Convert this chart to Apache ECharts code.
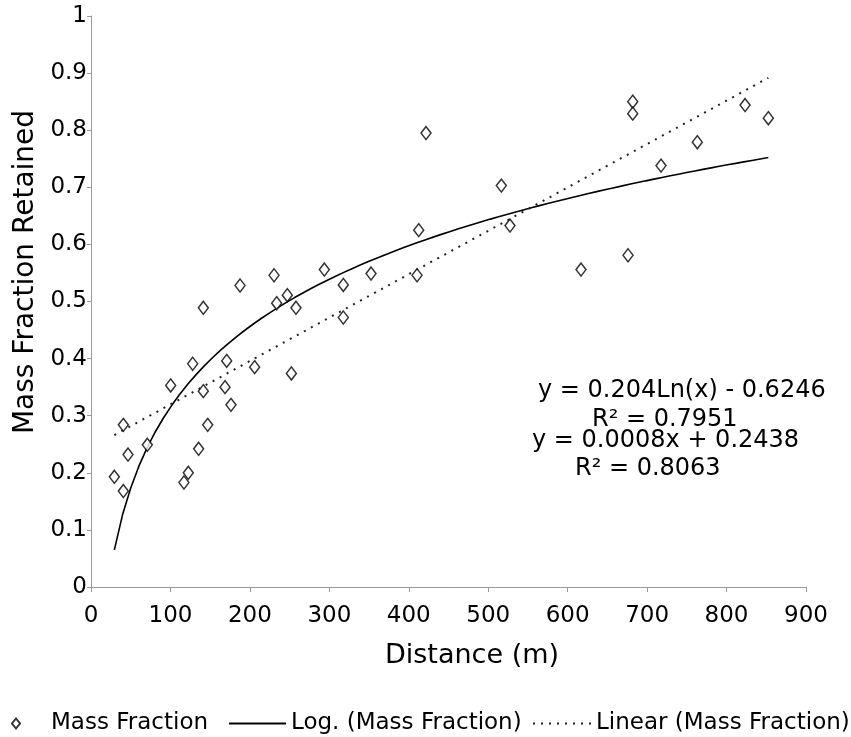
<!DOCTYPE html>
<html>
<head>
<meta charset="utf-8">
<script src="https://cdn.jsdelivr.net/npm/echarts@6/dist/echarts.min.js"></script>
<style>html,body{margin:0;padding:0;background:#fff;}#c{width:851px;height:737px;}</style>
</head>
<body>
<div id="c"></div>
<script>
// Data
const distance = [29.4, 40.7, 40.7, 46.6, 70.9, 100.3, 117, 122.5, 128, 135.5, 141.4, 141.4, 146.9, 168.7, 170.8, 176.2, 187.6, 206, 230.4, 233.7, 247.1, 252.2, 258, 293.7, 317.6, 317.6, 352.5, 410.4, 412.5, 421.7, 516.5, 527.4, 616.8, 676, 681.9, 681.9, 717.5, 763.2, 823.3, 852.6];
const massFraction = [0.193, 0.168, 0.284, 0.232, 0.249, 0.353, 0.183, 0.200, 0.391, 0.242, 0.489, 0.343, 0.284, 0.350, 0.396, 0.319, 0.528, 0.385, 0.546, 0.497, 0.511, 0.374, 0.489, 0.556, 0.529, 0.472, 0.549, 0.546, 0.625, 0.795, 0.703, 0.633, 0.556, 0.581, 0.850, 0.829, 0.738, 0.779, 0.844, 0.821];
const xTicks = [0, 100, 200, 300, 400, 500, 600, 700, 800, 900];
const yTicks = [0, 0.1, 0.2, 0.3, 0.4, 0.5, 0.6, 0.7, 0.8, 0.9, 1];
// Trendline coefficients (as shown in the chart)
const logCoef = [0.204, -0.6246];
const linCoef = [0.00076, 0.2438];
const eqTexts = ['y = 0.204Ln(x) - 0.6246', 'R\u00b2 = 0.7951', 'y = 0.0008x + 0.2438', 'R\u00b2 = 0.8063'];

const xMin = Math.min(...distance), xMax = Math.max(...distance);
const scatterData = distance.map((d, i) => [d, massFraction[i]]);
const logData = [];
for (let k = 0; k <= 80; k++) {
  const x = xMin + (xMax - xMin) * k / 80;
  logData.push([x, logCoef[0] * Math.log(x) + logCoef[1]]);
}
const linData = [[xMin, linCoef[0] * xMin + linCoef[1]], [xMax, linCoef[0] * xMax + linCoef[1]]];

const FONT = 'DejaVu Sans';
const hiddenSym = {color: 'rgba(0,0,0,0)', borderWidth: 0, opacity: 0};
const chart = echarts.init(document.getElementById('c'), null, {renderer: 'canvas'});
chart.setOption({
  animation: false,
  backgroundColor: '#fff',
  textStyle: {fontFamily: FONT},
  grid: {left: 91, right: 45, top: 16, bottom: 150, containLabel: false},
  xAxis: {
    type: 'value', min: xTicks[0], max: xTicks[xTicks.length - 1], interval: 100,
    name: 'Distance (m)', nameLocation: 'middle', nameGap: 55,
    nameTextStyle: {fontSize: 27, color: '#000', fontFamily: FONT, padding: [0, 0, 0, 47]},
    axisLine: {lineStyle: {color: '#999', width: 1}},
    axisTick: {show: true, length: 5, lineStyle: {color: '#999'}},
    axisLabel: {fontSize: 23, color: '#000', margin: 18, fontFamily: FONT},
    splitLine: {show: false}
  },
  yAxis: {
    type: 'value', min: yTicks[0], max: yTicks[yTicks.length - 1], interval: 0.1,
    name: 'Mass Fraction Retained', nameLocation: 'middle', nameGap: 40,
    nameTextStyle: {fontSize: 28, color: '#000', fontFamily: FONT, padding: [0, 0, 0, 59]},
    axisLine: {show: true, lineStyle: {color: '#999', width: 1}},
    axisTick: {show: true, length: 4, lineStyle: {color: '#999'}},
    axisLabel: {fontSize: 23, color: '#000', margin: 4, fontFamily: FONT,
      formatter: v => String(Math.round(v * 10) / 10)},
    splitLine: {show: false}
  },
  legend: [
    {data: ['Mass Fraction'], left: 11, top: 712, padding: 0, itemWidth: 8, itemHeight: 10,
     textStyle: {fontSize: 23, color: '#000', fontFamily: FONT, padding: [0, 0, 0, 26]}},
    {data: ['Log. (Mass Fraction)'], left: 228, top: 712, padding: 0, itemWidth: 57, itemHeight: 10,
     itemStyle: hiddenSym,
     textStyle: {fontSize: 23, color: '#000', fontFamily: FONT}},
    {data: ['Linear (Mass Fraction)'], left: 532, top: 712, padding: 0, itemWidth: 58, itemHeight: 10,
     itemStyle: hiddenSym,
     textStyle: {fontSize: 23, color: '#000', fontFamily: FONT}}
  ],
  graphic: [
    {type: 'text', left: 538, top: 379, style: {text: eqTexts[0], font: '24px "DejaVu Sans"', fill: '#000'}},
    {type: 'text', left: 592, top: 408, style: {text: eqTexts[1], font: '24px "DejaVu Sans"', fill: '#000'}},
    {type: 'text', left: 532, top: 429, style: {text: eqTexts[2], font: '24px "DejaVu Sans"', fill: '#000'}},
    {type: 'text', left: 575, top: 457, style: {text: eqTexts[3], font: '24px "DejaVu Sans"', fill: '#000'}}
  ],
  series: [
    {name: 'Log. (Mass Fraction)', type: 'line', data: logData, showSymbol: false, symbol: 'none',
     lineStyle: {color: '#000', width: 1.6}, itemStyle: {color: '#000'}, z: 2},
    {name: 'Linear (Mass Fraction)', type: 'line', data: linData, showSymbol: false, symbol: 'none',
     lineStyle: {color: '#222', width: 2, type: [2, 6]}, itemStyle: {color: '#222'}, z: 2},
    {name: 'Mass Fraction', type: 'scatter', data: scatterData, symbol: 'diamond', symbolSize: [10, 13],
     itemStyle: {color: '#fff', borderColor: '#000', borderWidth: 1.5}, z: 3}
  ]
});
</script>
</body>
</html>
